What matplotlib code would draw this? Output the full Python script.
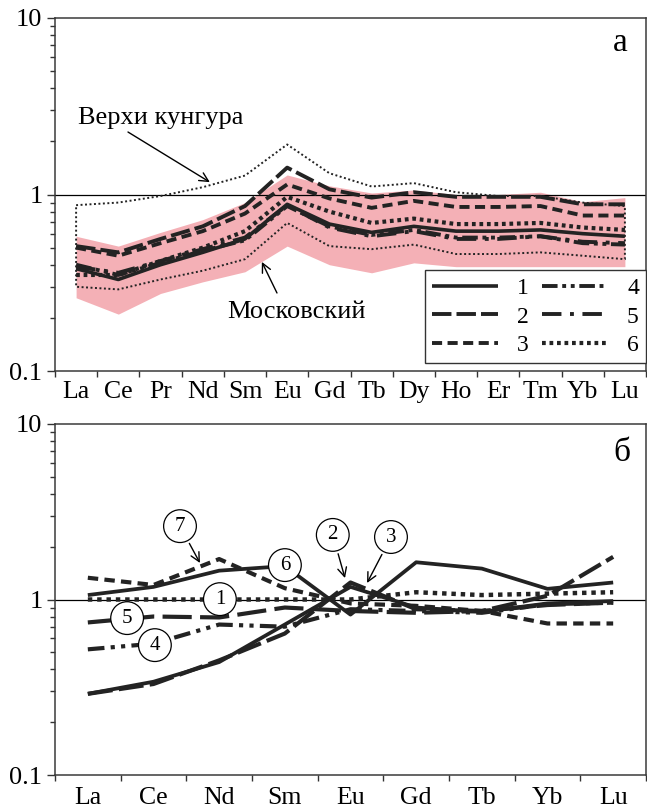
import numpy as np
import matplotlib
matplotlib.use("Agg")
import matplotlib.pyplot as plt
from matplotlib.ticker import LogLocator, NullFormatter

plt.rcParams['font.family'] = ['Liberation Serif', 'DejaVu Serif']

# ---------------- data: panel а ----------------
ree_a = ['La', 'Ce', 'Pr', 'Nd', 'Sm', 'Eu', 'Gd', 'Tb', 'Dy', 'Ho', 'Er', 'Tm', 'Yb', 'Lu']
band_hi = [0.58, 0.51, 0.61, 0.72, 0.90, 1.29, 1.12, 1.02, 1.06, 1.00, 1.00, 1.03, 0.91, 0.96]
band_lo = [0.26, 0.21, 0.275, 0.32, 0.365, 0.51, 0.40, 0.36, 0.41, 0.39, 0.39, 0.39, 0.39, 0.39]
kungur_upper = [0.87, 0.90, 0.98, 1.10, 1.28, 1.92, 1.32, 1.11, 1.16, 1.03, 0.98, 0.98, 0.90, 0.86]
moscow_lower = [0.30, 0.29, 0.33, 0.37, 0.43, 0.69, 0.51, 0.49, 0.52, 0.46, 0.46, 0.47, 0.45, 0.43]
a1 = [0.38, 0.33, 0.40, 0.47, 0.56, 0.88, 0.68, 0.61, 0.66, 0.62, 0.62, 0.63, 0.60, 0.58]
a2 = [0.51, 0.47, 0.56, 0.66, 0.86, 1.42, 1.07, 0.96, 1.03, 0.97, 0.97, 0.97, 0.88, 0.88]
a3 = [0.50, 0.45, 0.53, 0.62, 0.78, 1.14, 0.95, 0.84, 0.92, 0.85, 0.85, 0.86, 0.76, 0.76]
a4 = [0.40, 0.35, 0.41, 0.48, 0.55, 0.86, 0.66, 0.59, 0.63, 0.57, 0.57, 0.58, 0.53, 0.52]
a5 = [0.39, 0.36, 0.42, 0.49, 0.57, 0.87, 0.65, 0.58, 0.62, 0.56, 0.56, 0.58, 0.54, 0.53]
a6 = [0.35, 0.35, 0.42, 0.50, 0.62, 0.97, 0.80, 0.69, 0.73, 0.68, 0.68, 0.69, 0.65, 0.63]
legend_labels = ['1', '2', '3', '4', '5', '6']

# ---------------- data: panel б ----------------
ree_b = ['La', 'Ce', 'Nd', 'Sm', 'Eu', 'Gd', 'Tb', 'Yb', 'Lu']
b1 = [1.00, 1.00, 1.00, 1.00, 1.00, 1.10, 1.06, 1.08, 1.10]
b2 = [0.29, 0.33, 0.45, 0.64, 1.25, 0.88, 0.86, 1.05, 1.75]
b3 = [0.29, 0.34, 0.44, 0.72, 1.18, 0.90, 0.85, 0.95, 0.98]
b4 = [0.52, 0.56, 0.72, 0.70, 0.88, 0.86, 0.84, 0.94, 0.96]
b5 = [0.74, 0.80, 0.79, 0.90, 0.86, 0.84, 0.86, 0.93, 0.96]
b6 = [1.06, 1.18, 1.46, 1.55, 0.82, 1.63, 1.50, 1.15, 1.25]
b7 = [1.33, 1.21, 1.70, 1.16, 0.95, 0.92, 0.86, 0.73, 0.73]

LC = '#232323'
PINK = '#F4B0B6'

fig = plt.figure(figsize=(6.47, 8.11), dpi=100)
W, H = 647, 811
ax1 = fig.add_axes([55 / W, (H - 371) / H, 591 / W, 353 / H])
ax2 = fig.add_axes([55 / W, (H - 775) / H, 591 / W, 351 / H])


def style_axes(ax, labels, pad):
    n = len(labels)
    ax.set_yscale('log')
    ax.set_ylim(0.1, 10)
    ax.set_xlim(-0.5, n - 0.5)
    ax.set_yticks([0.1, 1, 10], labels=['0.1', '1', '10'])
    ax.yaxis.set_minor_locator(LogLocator(base=10, subs=np.arange(2, 10)))
    ax.yaxis.set_minor_formatter(NullFormatter())
    ax.tick_params(axis='y', which='major', direction='out', length=6, width=1,
                   labelsize=19, pad=3, color='#333333')
    ax.tick_params(axis='y', which='minor', direction='out', length=3.5, width=1,
                   color='#333333')
    ax.set_xticks(np.arange(-0.5, n, 1.0))
    ax.set_xticklabels([])
    ax.set_xticks(np.arange(n), labels=labels, minor=True)
    ax.tick_params(axis='x', which='major', direction='out', length=4, width=1,
                   color='#333333')
    ax.tick_params(axis='x', which='minor', length=0, labelsize=18.5, pad=pad)
    for s in ax.spines.values():
        s.set_linewidth(1.1)
        s.set_color('#3a3a3a')
    ax.axhline(1, color='k', lw=0.9, zorder=2)


style_axes(ax1, ree_a, 7)
style_axes(ax2, ree_b, 9)

arrow_kw = dict(arrowstyle='->', lw=1.0, color='k', mutation_scale=16,
                shrinkA=0, shrinkB=0)

# ---------------- panel а ----------------
xa = np.arange(len(ree_a))
ax1.fill_between(xa, band_lo, band_hi, color=PINK, lw=0, zorder=1)
# thin dotted envelope (upper: Верхи кунгура, lower: Московский)
env_x = np.concatenate([xa, xa[::-1], xa[:1]])
env_y = np.concatenate([kungur_upper, moscow_lower[::-1], kungur_upper[:1]])
ax1.plot(env_x, env_y, color=LC, lw=1.4, dashes=(1, 1.3), zorder=3)

styles_a = [
    dict(ls='-', lw=2.6),
    dict(lw=2.8, dashes=(5, 1.3)),
    dict(lw=2.8, dashes=(2.6, 1.4)),
    dict(lw=2.8, dashes=(4, 1.2, 1, 1.2, 1, 1.2)),
    dict(lw=2.8, dashes=(5, 2.2, 1, 2.2)),
    dict(lw=3.0, dashes=(0.9, 0.9)),
]
series_a = [a1, a2, a3, a4, a5, a6]
handles = []
for ys, st, lab in zip(series_a, styles_a, legend_labels):
    h, = ax1.plot(xa, ys, color=LC, solid_capstyle='butt', dash_capstyle='butt',
                  zorder=4, label=lab, **st)
    handles.append(h)

leg = ax1.legend(handles=handles, labels=legend_labels, ncol=2, loc='lower right',
                 bbox_to_anchor=(1.0, 0.022), frameon=True, fancybox=False,
                 edgecolor='#333333', framealpha=1, fontsize=17,
                 handlelength=2.8, handletextpad=0.8, columnspacing=0.55,
                 labelspacing=0.3, borderpad=0.3, borderaxespad=0.0)
leg.get_frame().set_linewidth(1.0)

ax1.text(0.039, 0.70, 'Верхи кунгура', transform=ax1.transAxes, fontsize=19,
         ha='left', va='baseline', zorder=6)
ax1.annotate('', xy=(0.262, 0.535), xycoords='axes fraction',
             xytext=(0.1235, 0.677), textcoords='axes fraction',
             arrowprops=arrow_kw, zorder=6)
ax1.text(0.291, 0.150, 'Московский', transform=ax1.transAxes, fontsize=19,
         ha='left', va='baseline', zorder=6)
ax1.annotate('', xy=(0.350, 0.309), xycoords='axes fraction',
             xytext=(0.3756, 0.221), textcoords='axes fraction',
             arrowprops=arrow_kw, zorder=6)
ax1.text(0.957, 0.93, 'а', transform=ax1.transAxes, fontsize=24,
         ha='center', va='center')

# ---------------- panel б ----------------
xb = np.arange(len(ree_b))
styles_b = [
    (b1, dict(lw=3.2, dashes=(1, 1.1))),
    (b2, dict(lw=3.0, dashes=(6, 1.5))),
    (b3, dict(ls='-', lw=2.7)),
    (b4, dict(lw=3.0, dashes=(4, 1.5, 1, 1.5, 1, 1.5))),
    (b5, dict(lw=3.0, dashes=(7, 2))),
    (b6, dict(ls='-', lw=2.7)),
    (b7, dict(lw=3.0, dashes=(2.5, 1.5))),
]
for ys, st in styles_b:
    ax2.plot(xb, ys, color=LC, solid_capstyle='butt', dash_capstyle='butt',
             zorder=4, **st)

circ = dict(boxstyle='circle,pad=0.33', fc='white', ec='k', lw=0.9)
for lab, head, tail in [('7', (0.2453, 0.604), (0.2115, 0.709)),
                        ('2', (0.4907, 0.561), (0.470, 0.684)),
                        ('3', (0.528, 0.547), (0.5685, 0.678))]:
    ax2.annotate(lab, xy=head, xycoords='axes fraction', xytext=tail,
                 textcoords='axes fraction', fontsize=15, ha='center', va='center',
                 bbox=circ, arrowprops=dict(arrowstyle='->', lw=1.0, color='k',
                                            mutation_scale=16, shrinkB=0),
                 zorder=6)
for lab, px, py in [('6', 0.389, 0.598), ('1', 0.279, 0.501),
                    ('5', 0.122, 0.447), ('4', 0.169, 0.370)]:
    ax2.text(px, py, lab, transform=ax2.transAxes, fontsize=15, ha='center',
             va='center', bbox=circ, zorder=6)
ax2.text(0.959, 0.917, 'б', transform=ax2.transAxes, fontsize=24,
         ha='center', va='center')

fig.savefig('out.png', dpi=100)
